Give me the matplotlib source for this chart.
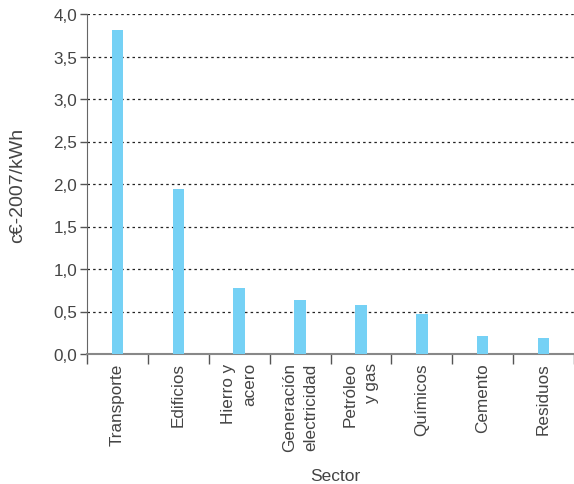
import matplotlib
matplotlib.use("Agg")
import matplotlib.pyplot as plt
import numpy as np

sectors = ["Transporte", "Edificios", "Hierro y\nacero", "Generación\nelectricidad",
           "Petróleo\ny gas", "Químicos", "Cemento", "Residuos"]
values = [3.81, 1.94, 0.78, 0.635, 0.58, 0.47, 0.21, 0.19]
yticks = [0.0, 0.5, 1.0, 1.5, 2.0, 2.5, 3.0, 3.5, 4.0]
ytick_labels = ["0,0", "0,5", "1,0", "1,5", "2,0", "2,5", "3,0", "3,5", "4,0"]

plt.rcParams['font.family'] = ['Liberation Sans', 'DejaVu Sans']
txt = "#444444"
fig = plt.figure(figsize=(5.74, 4.85), dpi=100)
ax = fig.add_axes([87/574, 1-355/485, 1-87/574, (355-15)/485])

x = np.arange(len(sectors))
ax.bar(x, values, width=0.19, color="#75D1F5", zorder=3)

ax.set_xlim(-0.5, len(sectors) - 0.5)
ax.set_ylim(0, 4.0)
ax.set_yticks(yticks)
ax.set_yticklabels(ytick_labels, fontsize=12.3, color=txt)
for yv in yticks[1:]:
    ax.axhline(yv, color="#222222", linestyle=(0, (2, 2.5)), linewidth=0.9, zorder=1)

ax.set_xticks(np.arange(-0.5, len(sectors), 1.0))
ax.set_xticklabels([])
ax.set_xticks(x, minor=True)
ax.set_xticklabels(sectors, minor=True, rotation=90, fontsize=12.3, color=txt,
                   va="top", ha="center", multialignment="right", linespacing=1.55)
ax.tick_params(axis="x", which="major", length=7, width=1, color="#555555", direction="out")
ax.tick_params(axis="x", which="minor", length=0, pad=6)
ax.tick_params(axis="y", length=5, width=1, color="#555555", pad=2)

for s in ["top", "right"]:
    ax.spines[s].set_visible(False)
ax.spines["left"].set_color("#666666")
ax.spines["bottom"].set_color("#888888")
ax.spines["bottom"].set_linewidth(1.5)

ax.set_ylabel("c€-2007/kWh", fontsize=14, color=txt, labelpad=20)
fig.text(335/574, 1-477/485, "Sector", fontsize=12.5, color=txt, ha="center", va="center")

fig.savefig("out.png", dpi=100)
